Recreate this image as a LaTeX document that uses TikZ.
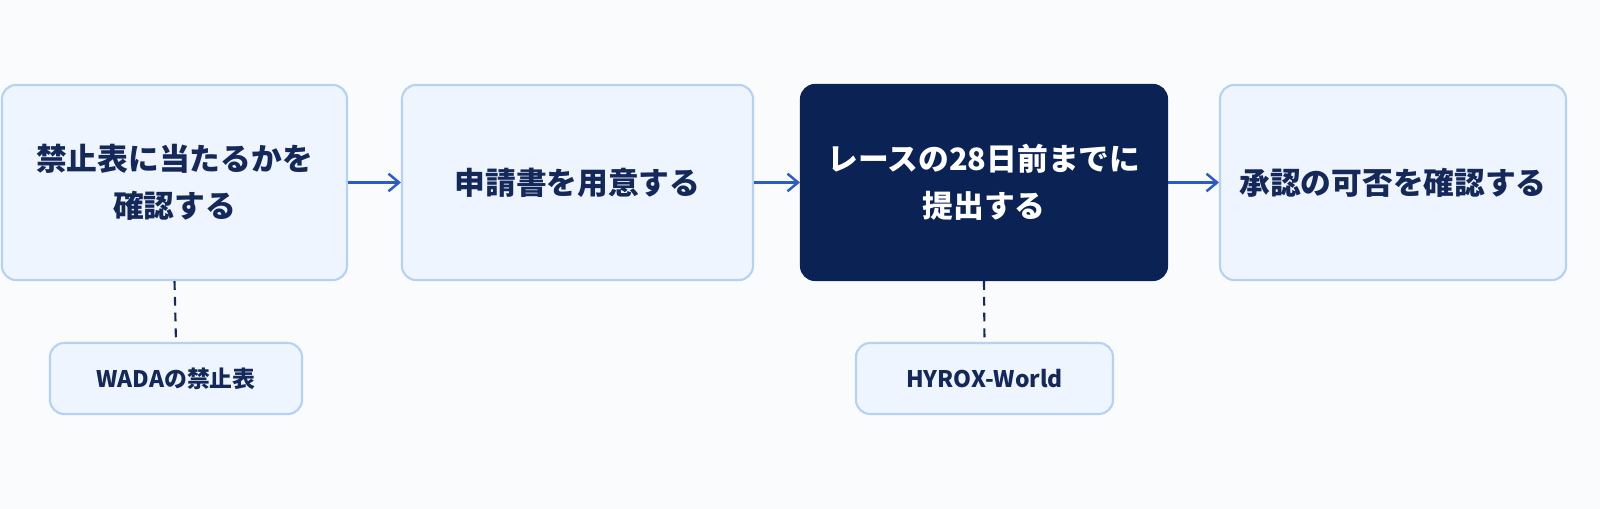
\documentclass[tikz,border=0pt]{standalone}
\usepackage{fontspec}
\setmainfont{Noto Sans CJK JP}
\usetikzlibrary{arrows.meta}
\definecolor{bg}{HTML}{FAFBFD}
\definecolor{lfill}{HTML}{EEF5FE}
\definecolor{lborder}{HTML}{B5D2F4}
\definecolor{navy}{HTML}{14285A}
\definecolor{dark}{HTML}{0B2255}
\definecolor{arr}{HTML}{2A5CC4}
\begin{document}
\begin{tikzpicture}[x=0.02cm,y=-0.02cm,
 box/.style={draw=lborder,line width=1.2pt,fill=lfill,rounded corners=8pt,text=navy,align=center,font=\fontsize{17.5}{27}\selectfont\bfseries},
 dbox/.style={box,draw=dark,fill=dark,text=white},
 sbox/.style={box,font=\fontsize{13}{16}\selectfont\bfseries},
 ar/.style={->,arr,line width=1.4pt,>={Straight Barb[length=6pt,width=10pt]}},
 dl/.style={navy,line width=1.2pt,dash pattern=on 5pt off 4pt}]
\fill[bg] (0,0) rectangle (1600,509);
\useasboundingbox (0,0) rectangle (1600,509);
\node[box,minimum width=345*0.02cm,minimum height=195*0.02cm] (b1) at (174.5,182.5) {禁止表に当たるかを\\確認する};
\node[box,minimum width=351*0.02cm,minimum height=195*0.02cm] (b2) at (577.5,182.5) {申請書を用意する};
\node[dbox,minimum width=366*0.02cm,minimum height=195*0.02cm] (b3) at (984,182.5) {レースの28日前までに\\提出する};
\node[box,minimum width=346*0.02cm,minimum height=195*0.02cm] (b4) at (1393,182.5) {承認の可否を確認する};
\node[sbox,minimum width=252*0.02cm,minimum height=71*0.02cm] (s1) at (176,378.5) {WADAの禁止表};
\node[sbox,minimum width=257*0.02cm,minimum height=71*0.02cm] (s3) at (984.5,378.5) {HYROX-World};
\draw[ar] (b1) -- (b2);
\draw[ar] (b2) -- (b3);
\draw[ar] (b3) -- (b4);
\draw[dl] (b1.south) -- (s1.north);
\draw[dl] (b3.south) -- (s3.north);
\end{tikzpicture}
\end{document}
